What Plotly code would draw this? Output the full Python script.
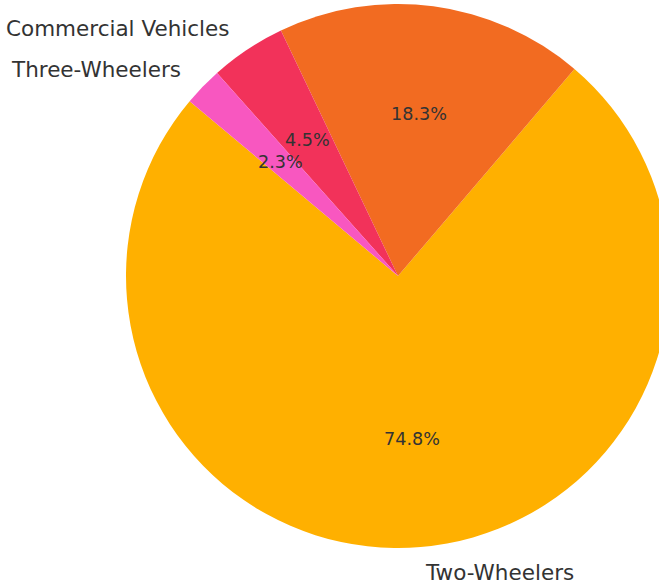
import math
import plotly.graph_objects as go

labels = ["Two-Wheelers", "Passenger Vehicles", "Commercial Vehicles", "Three-Wheelers"]
values = [74.8, 18.3, 4.5, 2.3]
colors = ["#FFB000", "#F26B21", "#F2325A", "#F857C0"]

W, H = 670, 584
cx, cy, R = 398, 276, 272
start_deg = 140

total = sum(values)
first_span = 360 * values[0] / total

fig = go.Figure(go.Pie(
    labels=labels, values=values, sort=False, direction="counterclockwise",
    rotation=90 - (start_deg + first_span - 360), marker=dict(colors=colors, line=dict(width=0)),
    textinfo="none", hoverinfo="label+percent", showlegend=False,
    domain=dict(x=[(cx - R) / W, (cx + R) / W], y=[1 - (cy + R) / H, 1 - (cy - R) / H]),
))

ang = start_deg
annotations = []
for lab, v in zip(labels, values):
    span = 360 * v / total
    mid = math.radians(ang + span / 2)
    ang += span
    c, s = math.cos(mid), math.sin(mid)
    # percentage at 0.6 R
    px, py = cx + 0.6 * R * c, cy - 0.6 * R * s
    annotations.append(dict(x=px / W, y=1 - py / H, xref="paper", yref="paper",
                            text=f"{v:.1f}%", showarrow=False,
                            xanchor="center", yanchor="middle",
                            font=dict(family="DejaVu Sans", size=17.6, color="#333333")))
    # label at 1.1 R
    lx, ly = cx + 1.1 * R * c, cy - 1.1 * R * s + 1.5
    if ly < 0:
        continue  # label falls outside the visible canvas in the reference
    ly = min(ly, H - 12)
    annotations.append(dict(x=lx / W, y=1 - ly / H, xref="paper", yref="paper",
                            text=lab, showarrow=False,
                            xanchor="left" if c >= 0 else "right", yanchor="middle",
                            font=dict(family="DejaVu Sans", size=21.5, color="#333333")))

fig.update_layout(width=W, height=H, margin=dict(l=0, r=0, t=0, b=0),
                  paper_bgcolor="white", plot_bgcolor="white", annotations=annotations)
fig.write_html("out.html")
